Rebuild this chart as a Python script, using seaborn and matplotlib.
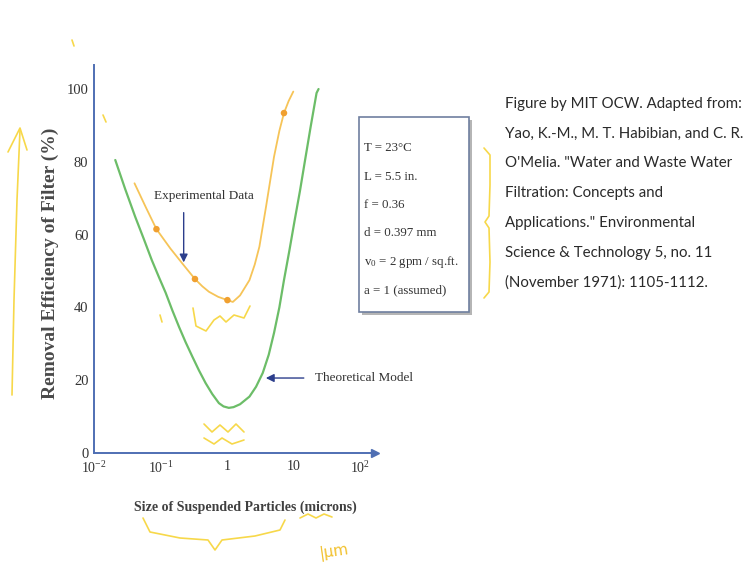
import numpy as np
import pandas as pd
import seaborn as sns
import matplotlib.pyplot as plt
from matplotlib.patches import Rectangle
from matplotlib.lines import Line2D

# Theoretical model curve (particle size in microns, removal efficiency %)
model_size = [0.0209, 0.0295, 0.0417, 0.0562, 0.0741, 0.0955, 0.120, 0.151, 0.191, 0.240,
              0.302, 0.380, 0.479, 0.603, 0.759, 0.891, 1.07, 1.26, 1.58, 2.19,
              2.75, 3.47, 4.27, 5.13, 6.17, 7.24, 8.71, 10.5, 12.6, 14.8,
              18.2, 22.4, 24.0]
model_eff = [80.5, 72.5, 64.9, 58.8, 53.0, 48.2, 44.0, 39.2, 34.6, 30.4,
             26.5, 22.7, 19.2, 16.2, 13.7, 12.8, 12.4, 12.6, 13.4, 15.5,
             18.2, 22.0, 27.0, 33.0, 40.0, 47.5, 55.5, 64.0, 72.0, 79.7,
             89.5, 98.9, 100.0]

# Curve drawn through the experimental data
exp_size = [0.0407, 0.0603, 0.0871, 0.141, 0.224, 0.331, 0.427, 0.537, 0.741, 1.02,
            1.23, 1.58, 2.19, 2.63, 3.09, 3.89, 5.13, 6.17, 7.24, 8.51, 10.0]
exp_eff = [74.1, 67.5, 61.5, 56.2, 51.6, 47.8, 45.8, 44.3, 42.9, 42.0,
           41.5, 43.3, 47.5, 51.8, 56.7, 67.7, 81.4, 88.5, 93.4, 96.7, 99.3]

# Measured points
pt_size = [0.0871, 0.331, 1.02, 7.24]
pt_eff = [61.5, 47.8, 42.0, 93.4]

xtick_pos = [0.01, 0.1, 1, 10, 100]
xtick_lab = ['10$^{-2}$', '10$^{-1}$', '1', '10', '10$^{2}$']
ytick_pos = [0, 20, 40, 60, 80, 100]

params = ['T = 23°C', 'L = 5.5 in.', 'f = 0.36', 'd = 0.397 mm',
          'v$_0$ = 2 gpm / sq.ft.', 'a = 1 (assumed)']
citation = ['Figure by MIT OCW. Adapted from:',
            'Yao, K.-M., M. T. Habibian, and C. R.',
            'O\'Melia. "Water and Waste Water',
            'Filtration: Concepts and',
            'Applications." Environmental',
            'Science & Technology 5, no. 11',
            '(November 1971): 1105-1112.']

sns.set_theme(style='white')
plt.rcParams['font.family'] = ['Liberation Serif', 'DejaVu Serif']
plt.rcParams['mathtext.fontset'] = 'custom'
plt.rcParams['mathtext.rm'] = 'Liberation Serif'
plt.rcParams['mathtext.it'] = 'Liberation Serif'

AXC = '#4f6fb3'
TXT = '#333333'
W, H = 749, 569

fig = plt.figure(figsize=(W / 100, H / 100), dpi=100)
fig.patch.set_facecolor('white')
ax = fig.add_axes([94 / W, 116 / H, 281 / W, 388 / H])

model = pd.DataFrame({'size': model_size, 'eff': model_eff})
expc = pd.DataFrame({'size': exp_size, 'eff': exp_eff})
pts = pd.DataFrame({'size': pt_size, 'eff': pt_eff})

sns.lineplot(data=model, x='size', y='eff', sort=False, color='#6cbd68', lw=1.6, ax=ax)
sns.lineplot(data=expc, x='size', y='eff', sort=False, color='#f6c458', lw=1.3, ax=ax)
sns.scatterplot(data=pts, x='size', y='eff', color='#f0a030', s=22, edgecolor='none', ax=ax, zorder=5)

ax.set_xscale('log')
ax.set_xlim(0.01, 10 ** 2.23)
ax.set_ylim(0, 106.6)
ax.set_xticks(xtick_pos)
ax.set_xticklabels(xtick_lab)
ax.set_yticks(ytick_pos)
ax.minorticks_off()
ax.tick_params(axis='x', direction='in', length=6, width=1, color=AXC,
               labelsize=10, labelcolor=TXT, pad=5)
ax.tick_params(axis='y', direction='in', length=5, width=1, color=AXC,
               labelsize=10.5, labelcolor=TXT, pad=4)

for s in ['top', 'right']:
    ax.spines[s].set_visible(False)
for s in ['left', 'bottom']:
    ax.spines[s].set_color(AXC)
    ax.spines[s].set_linewidth(1.4)
ax.plot(1, 0, '>', color=AXC, ms=6, transform=ax.get_yaxis_transform(), clip_on=False)
ax.plot(0, 1, '^', color=AXC, ms=6, transform=ax.get_xaxis_transform(), clip_on=False)

ax.set_xlabel('Size of Suspended Particles (microns)', fontsize=10, fontweight='bold', color='#404040')
ax.xaxis.set_label_coords(0.54, -0.122)
ax.set_ylabel('Removal Efficiency of Filter (%)', fontsize=14, fontweight='bold', color='#4a4a4a')
ax.yaxis.set_label_coords(-0.125, 0.49)

# arrows and labels
ax.annotate('', xy=(10 ** -0.65, 51.6), xytext=(10 ** -0.65, 66.8),
            arrowprops=dict(arrowstyle='-|>', color='#2c3e8c', lw=1, mutation_scale=12))
ax.text(10 ** -0.34, 70.6, 'Experimental Data', ha='center', va='center', fontsize=9.5, color=TXT)
ax.annotate('', xy=(10 ** 0.545, 20.6), xytext=(10 ** 1.2, 20.6),
            arrowprops=dict(arrowstyle='-|>', color='#2c3e8c', lw=1, mutation_scale=12))
ax.text(10 ** 1.32, 20.6, 'Theoretical Model', ha='left', va='center', fontsize=9.5, color=TXT)


def fx(x):
    return x / W


def fy(y):
    return 1 - y / H


# parameter box with shadow
fig.add_artist(Rectangle((fx(362), fy(315)), 110 / W, 195 / H, transform=fig.transFigure,
                         facecolor='#b5b5b5', edgecolor='none', zorder=1))
fig.add_artist(Rectangle((fx(359), fy(312)), 110 / W, 195 / H, transform=fig.transFigure,
                         facecolor='white', edgecolor='#6f7f9f', lw=1.2, zorder=2))
for i, t in enumerate(params):
    fig.text(fx(364), fy(148 + 28.5 * i), t, fontsize=9.3, color=TXT, va='center', zorder=3)

for i, t in enumerate(citation):
    fig.text(fx(505), fy(104 + 29.7 * i), t, fontsize=10.8, color='#2a2a2a', va='center',
             family=['Lato', 'DejaVu Sans'])

# yellow hand-drawn marks
YEL = '#f7d84a'
marks = [
    [(12, 395), (14, 300), (17, 200), (20, 130)],
    [(8, 152), (20, 128), (27, 150)],
    [(484, 148), (490, 155), (490, 185), (489, 216), (485, 222), (489, 228), (490, 262), (489, 292), (484, 298)],
    [(143, 518), (150, 532), (180, 538), (208, 540), (215, 550), (222, 540), (255, 536), (280, 530), (285, 520)],
    [(300, 518), (308, 514), (316, 518), (324, 514), (332, 517)],
    [(193, 308), (196, 326), (206, 331), (214, 320), (220, 316), (226, 322), (234, 315), (244, 318), (250, 306)],
    [(204, 424), (212, 432), (220, 425), (228, 432), (236, 424), (244, 432)],
    [(204, 438), (214, 444), (222, 438), (232, 444), (244, 440)],
    [(160, 315), (162, 322)],
    [(103, 115), (106, 122)],
    [(72, 40), (74, 46)],
]
for m in marks:
    xs, ys = zip(*m)
    fig.add_artist(Line2D([fx(v) for v in xs], [fy(v) for v in ys], transform=fig.transFigure,
                          color=YEL, lw=1.2))
fig.text(fx(318), fy(552), '|μm', fontsize=11, color='#f2c230', va='center', rotation=8,
         family=['DejaVu Sans'])

fig.savefig('out.png', dpi=100)
